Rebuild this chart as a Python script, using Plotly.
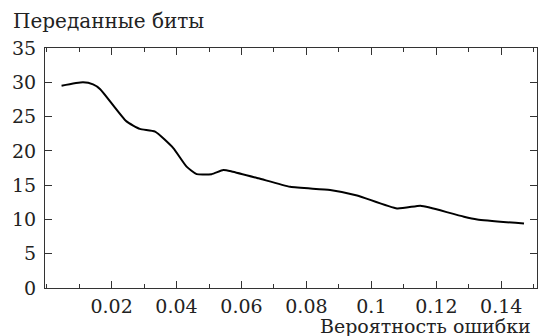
import plotly.graph_objects as go

# Error probability vs. transmitted bits
error_prob = [0.0046, 0.0112, 0.0143, 0.0165, 0.0246, 0.0287, 0.0334, 0.039, 0.0431,
              0.0462, 0.0508, 0.0544, 0.057, 0.0652, 0.075, 0.0873, 0.0956, 0.1079,
              0.1151, 0.1182, 0.1285, 0.1326, 0.147]
bits_sent = [29.5, 30.0, 29.7, 29.0, 24.3, 23.2, 22.8, 20.4, 17.7,
             16.6, 16.6, 17.2, 17.0, 16.0, 14.75, 14.3, 13.5, 11.6,
             12.0, 11.7, 10.4, 10.0, 9.4]

x_ticks = [0.02, 0.04, 0.06, 0.08, 0.10, 0.12, 0.14]
x_tick_text = ["0.02", "0.04", "0.06", "0.08", "0.1", "0.12", "0.14"]
y_ticks = [0, 5, 10, 15, 20, 25, 30, 35]

y_title = "Переданные биты"
x_title = "Вероятность ошибки"

FONT = "DejaVu Serif"
AXIS_COLOR = "#333333"
TEXT_COLOR = "#222222"

fig = go.Figure(
    go.Scatter(
        x=error_prob,
        y=bits_sent,
        mode="lines",
        line=dict(color="black", width=2, shape="spline", smoothing=0.5),
        showlegend=False,
    )
)

axis_common = dict(
    showline=True,
    linecolor=AXIS_COLOR,
    linewidth=1.2,
    mirror="ticks",
    ticks="inside",
    tickcolor=AXIS_COLOR,
    tickwidth=1.2,
    ticklen=7,
    showgrid=False,
    zeroline=False,
    tickfont=dict(family=FONT, size=19, color=TEXT_COLOR),
)

fig.update_xaxes(
    range=[-0.0005, 0.151],
    tickvals=x_ticks,
    ticktext=x_tick_text,
    minor=dict(ticks="inside", ticklen=4, dtick=0.01, tick0=0,
               tickcolor=AXIS_COLOR, tickwidth=1.2),
    ticklabelstandoff=1,
    **axis_common,
)
fig.update_yaxes(
    range=[0, 35],
    tickvals=y_ticks,
    ticklabelstandoff=4,
    **axis_common,
)

fig.add_annotation(
    text=y_title, xref="paper", yref="paper",
    x=-0.07, y=1.1125, xanchor="left", yanchor="middle",
    showarrow=False, font=dict(family=FONT, size=20, color=TEXT_COLOR),
)
fig.add_annotation(
    text=x_title, xref="paper", yref="paper",
    x=0.992, y=-0.157, xanchor="right", yanchor="middle",
    showarrow=False, font=dict(family=FONT, size=19, color=TEXT_COLOR),
)

fig.update_layout(
    width=538,
    height=336,
    margin=dict(l=45, r=1, t=48, b=48),
    paper_bgcolor="white",
    plot_bgcolor="white",
)

fig.write_html("out.html")
